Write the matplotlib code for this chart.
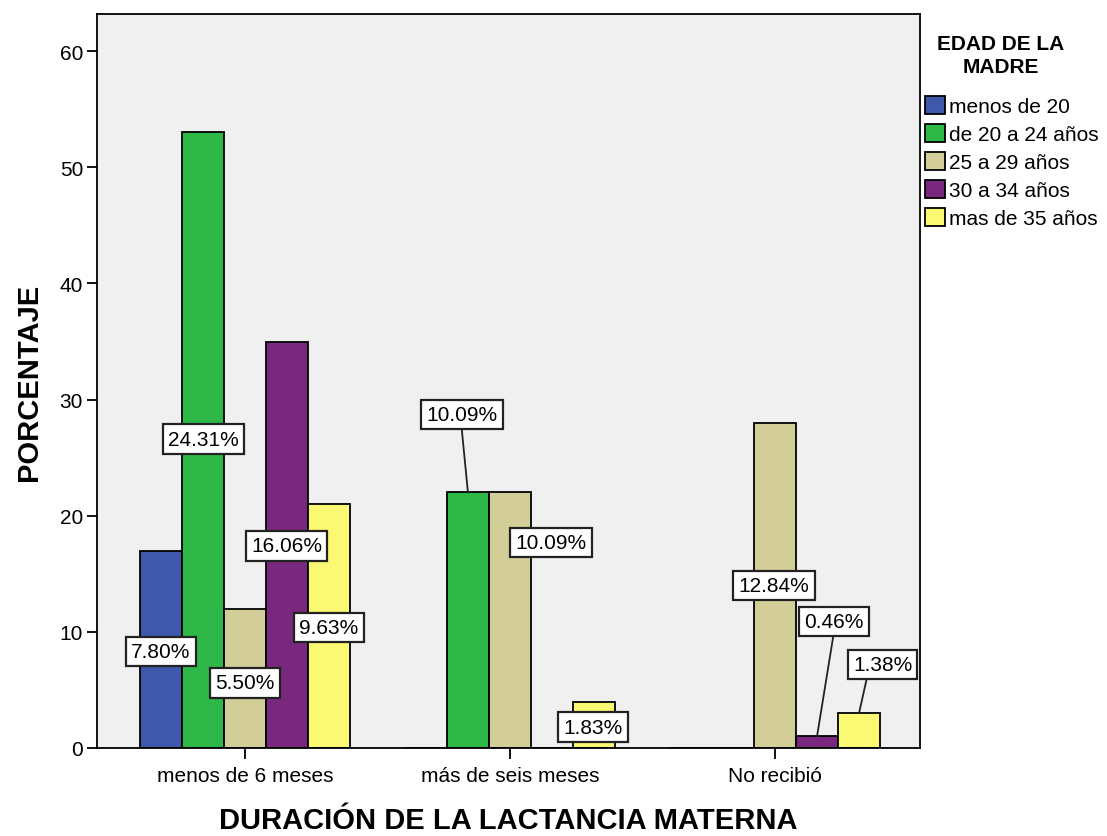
import numpy as np
import matplotlib.pyplot as plt
from matplotlib.patches import Patch

plt.rcParams['font.family'] = ['Liberation Sans', 'DejaVu Sans']

# Datos
categorias = ['menos de 6 meses', 'más de seis meses', 'No recibió']
edades = ['menos de 20', 'de 20 a 24 años', '25 a 29 años', '30 a 34 años', 'mas de 35 años']
colores = ['#3E58AC', '#2EB848', '#D3CE97', '#78287D', '#FBF873']
menos_20 = [17, 0, 0]
de_20_24 = [53, 22, 0]
de_25_29 = [12, 22, 28]
de_30_34 = [35, 0, 1]
mas_35 = [21, 4, 3]
total = 218

series = [menos_20, de_20_24, de_25_29, de_30_34, mas_35]

fig = plt.figure(figsize=(11.07, 8.37), dpi=100)
ax = fig.add_axes([97 / 1107, 1 - 749 / 837, (920 - 97) / 1107, (749 - 15) / 837])
ax.set_facecolor('#F0F0F0')

x = np.arange(len(categorias))
w = 0.1585
for i, (vals, col) in enumerate(zip(series, colores)):
    pos = x + (i - 2) * w
    ax.bar(pos, vals, width=w, color=col, edgecolor='black', linewidth=1.3, zorder=2)

# etiquetas de porcentaje (posicion de la caja en datos)
caja = dict(boxstyle='square,pad=0.25', fc='white', ec='#222222', lw=1.6)
etiquetas = [
    # (serie, grupo, x_caja, y_caja, punto de la linea en la caja o None)
    (0, 0, -0.317, 8.3, None),
    (1, 0, -0.155, 26.6, None),
    (2, 0, 0.0, 5.6, None),
    (3, 0, 0.158, 17.4, None),
    (4, 0, 0.317, 10.4, None),
    (1, 1, 0.819, 28.7, 0.49),
    (2, 1, 1.155, 17.7, None),
    (4, 1, 1.313, 1.8, None),
    (2, 2, 1.996, 14.0, None),
    (3, 2, 2.223, 10.9, 0.5),
    (4, 2, 2.406, 7.2, 0.25),
]
for s, g, xt, yt, rel in etiquetas:
    v = series[s][g]
    txt = f'{v / total * 100:.2f}%'
    xb = x[g] + (s - 2) * w
    if rel is not None:
        ax.annotate(txt, xy=(xb, v), xytext=(xt, yt),
                    ha='center', va='center', fontsize=15, bbox=caja, zorder=4,
                    arrowprops=dict(arrowstyle='-', color='#222222', lw=1.3,
                                    shrinkA=0, shrinkB=0, relpos=(rel, 0)))
    else:
        ax.text(xt, yt, txt, ha='center', va='center', fontsize=15, bbox=caja, zorder=4)

ax.set_xlim(-0.558, 2.547)
ax.set_ylim(0, 63.2)
ax.set_xticks(x)
ax.set_xticklabels(categorias, fontsize=15)
ax.set_yticks(np.arange(0, 61, 10))
ax.tick_params(axis='y', labelsize=15, length=7, width=1.3, pad=3)
ax.tick_params(axis='x', length=8, width=1.3, pad=5)
for sp in ax.spines.values():
    sp.set_linewidth(1.3)

ax.set_xlabel('DURACIÓN DE LA LACTANCIA MATERNA', fontsize=21, fontweight='bold', labelpad=15)
ax.set_ylabel('PORCENTAJE', fontsize=21, fontweight='bold', labelpad=12)

# titulo de la leyenda
fig.text(1001 / 1107, 1 - 56 / 837, 'EDAD DE LA\nMADRE', ha='center', va='center',
         fontsize=15, fontweight='bold', linespacing=1.22)

handles = [Patch(facecolor=c, edgecolor='black', linewidth=1.3) for c in colores]
leg = fig.legend(handles, edades, loc='upper left', bbox_to_anchor=(925 / 1107, 1 - 97 / 837),
                 frameon=False, fontsize=15, handlelength=0.95, handleheight=0.95,
                 handletextpad=0.2, labelspacing=0.38, borderaxespad=0, borderpad=0)

fig.savefig('out.png', dpi=100)
